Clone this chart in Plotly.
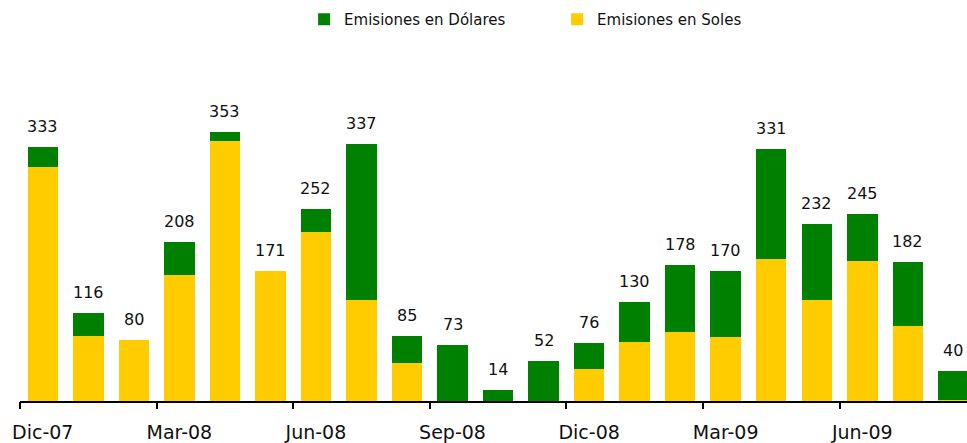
import plotly.graph_objects as go

# Monthly issuance (millions), Dic-07 .. Ago-09
months = ["Dic-07", "Ene-08", "Feb-08", "Mar-08", "Abr-08", "May-08", "Jun-08",
          "Jul-08", "Ago-08", "Sep-08", "Oct-08", "Nov-08", "Dic-08", "Ene-09",
          "Feb-09", "Mar-09", "Abr-09", "May-09", "Jun-09", "Jul-09", "Ago-09"]
soles = [307, 85, 80, 165, 341, 171, 222, 133, 50, 0, 0, 0, 42, 78, 91, 84, 186, 133, 183, 99, 1]
dolares = [26, 31, 0, 43, 12, 0, 30, 204, 35, 73, 14, 52, 34, 52, 87, 86, 145, 99, 62, 83, 39]
tick_months = ["Dic-07", "Mar-08", "Jun-08", "Sep-08", "Dic-08", "Mar-09", "Jun-09"]

totals = [s + d for s, d in zip(soles, dolares)]
font = "DejaVu Sans"
xrange = [-0.5, 20.3]

fig = go.Figure()
fig.add_trace(go.Bar(x=months, y=soles, name="Emisiones en Soles",
                     marker=dict(color="#FFCC00", line=dict(width=0))))
fig.add_trace(go.Bar(x=months, y=dolares, name="Emisiones en Dólares",
                     marker=dict(color="#008000", line=dict(width=0))))

# helper so the tick-only overlay axis gets drawn
fig.add_trace(go.Scatter(x=xrange, y=[0, 0], xaxis="x2", mode="none",
                         showlegend=False, hoverinfo="skip"))

# total labels above each bar
for m, t in zip(months, totals):
    fig.add_annotation(x=m, y=t, text=str(t), showarrow=False, yanchor="bottom",
                       yshift=9, font=dict(family=font, size=16, color="#111"))

# tick marks sit on category boundaries every quarter
bounds = [months.index(m) - 0.5 for m in tick_months]

fig.update_layout(
    width=967, height=443,
    margin=dict(l=20, r=0, t=96, b=42),
    paper_bgcolor="white", plot_bgcolor="white",
    barmode="stack", bargap=0.33,
    font=dict(family=font, color="#111"),
    showlegend=True,
    legend=dict(orientation="h", traceorder="reversed", x=0.300, y=1 - 3 / 443,
                yref="container", xanchor="left", yanchor="top", entrywidth=208,
                font=dict(family=font, size=15, color="#111")),
    xaxis=dict(type="category", range=xrange, tickvals=tick_months, automargin=False,
               ticks="", showline=True, linecolor="black", linewidth=2,
               ticklabelstandoff=13,
               tickfont=dict(family=font, size=19, color="#111"), showgrid=False),
    xaxis2=dict(overlaying="x", anchor="y", range=xrange, tickvals=bounds,
                automargin=False, ticks="outside", ticklen=7, tickwidth=2,
                tickcolor="black", showticklabels=False, showgrid=False,
                showline=False, zeroline=False),
    yaxis=dict(range=[0, 400], visible=False, automargin=False),
)

fig.write_html("out.html", config={"displayModeBar": False},
               post_script="document.body.style.margin='0';")
